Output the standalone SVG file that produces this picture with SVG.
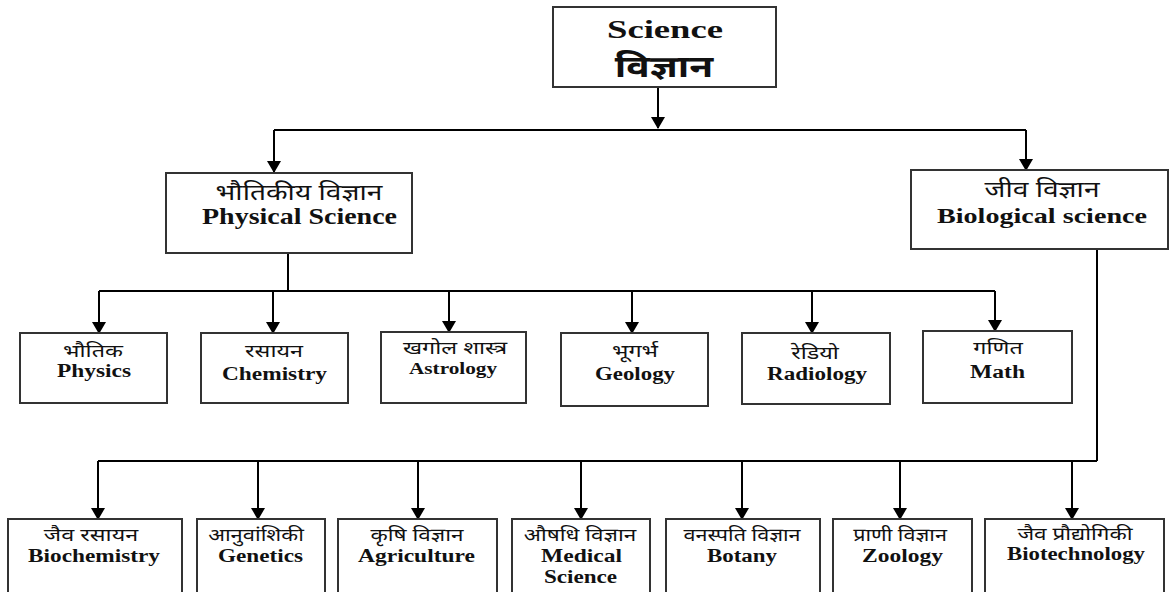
<svg xmlns="http://www.w3.org/2000/svg" width="1169" height="592" viewBox="0 0 1169 592">
<defs>
<style>
.box{fill:#fff;stroke:#333;stroke-width:2}
.en{font-family:"Liberation Serif","Times New Roman",serif;font-weight:bold;fill:#111;text-anchor:middle}
.hi{font-family:"Noto Sans Devanagari","Noto Serif Devanagari","Lohit Devanagari","Mangal","Noto Sans",sans-serif;fill:#111;text-anchor:middle}
.c{stroke:#000;stroke-width:2;fill:none}
.a{stroke:#000;stroke-width:2;fill:none;marker-end:url(#arr)}
</style>
<marker id="arr" markerUnits="userSpaceOnUse" markerWidth="12" markerHeight="14" refX="11" refY="7" orient="auto" viewBox="0 0 12 14">
<path d="M0,0 L12,7 L0,14 Z" fill="#000"/>
</marker>
</defs>
<rect width="1169" height="592" fill="#fff"/>
<g id="connectors">
<path class="a" d="M658,87 V128"/>
<path class="c" d="M274,130 H1026"/>
<path class="a" d="M274,130 V172"/>
<path class="a" d="M1026,130 V170"/>
<path class="c" d="M288,253 V291"/>
<path class="c" d="M99,291 H995"/>
<path class="a" d="M99,291 V333"/>
<path class="a" d="M273,291 V333"/>
<path class="a" d="M449,291 V332"/>
<path class="a" d="M632,291 V333"/>
<path class="a" d="M812,291 V333"/>
<path class="a" d="M995,291 V331"/>
<path class="c" d="M1097,249 V461"/>
<path class="c" d="M98,461 H1097"/>
<path class="a" d="M98,461 V519"/>
<path class="a" d="M258,461 V519"/>
<path class="a" d="M418,461 V519"/>
<path class="a" d="M581,461 V519"/>
<path class="a" d="M742,461 V519"/>
<path class="a" d="M900,461 V519"/>
<path class="a" d="M1072,461 V519"/>
</g>
<g id="science">
<rect class="box" x="553" y="7" width="223" height="80"/>
<text class="en" x="665" y="38" font-size="25" textLength="116" lengthAdjust="spacingAndGlyphs">Science</text>
<text class="hi" transform="translate(664,77) scale(1.3,1)" font-size="30" font-weight="bold">विज्ञान</text>
</g>
<g id="physical">
<rect class="box" x="166" y="173" width="246" height="80"/>
<text class="hi" transform="translate(299,200) scale(1.28,1)" font-size="22">भौतिकीय विज्ञान</text>
<text class="en" x="299.5" y="224" font-size="24" textLength="195" lengthAdjust="spacingAndGlyphs">Physical Science</text>
</g>
<g id="biological">
<rect class="box" x="911" y="170" width="257" height="79"/>
<text class="hi" transform="translate(1042,197) scale(1.28,1)" font-size="22">जीव विज्ञान</text>
<text class="en" x="1042" y="223" font-size="22" textLength="210" lengthAdjust="spacingAndGlyphs">Biological science</text>
</g>
<g id="physics">
<rect class="box" x="20" y="333" width="147" height="70"/>
<text class="hi" transform="translate(93,357) scale(1.3,1)" font-size="18">भौतिक</text>
<text class="en" x="94" y="377" font-size="18" textLength="74" lengthAdjust="spacingAndGlyphs">Physics</text>
</g>
<g id="chemistry">
<rect class="box" x="201" y="333" width="147" height="70"/>
<text class="hi" transform="translate(274,357) scale(1.3,1)" font-size="18">रसायन</text>
<text class="en" x="274.5" y="380" font-size="18" textLength="105" lengthAdjust="spacingAndGlyphs">Chemistry</text>
</g>
<g id="astrology">
<rect class="box" x="381" y="332" width="145" height="71"/>
<text class="hi" transform="translate(455,354) scale(1.3,1)" font-size="18">खगोल शास्त्र</text>
<text class="en" x="453" y="374" font-size="16" textLength="88" lengthAdjust="spacingAndGlyphs">Astrology</text>
</g>
<g id="geology">
<rect class="box" x="561" y="333" width="147" height="73"/>
<text class="hi" transform="translate(635,357) scale(1.3,1)" font-size="18">भूगर्भ</text>
<text class="en" x="635" y="380" font-size="18" textLength="80" lengthAdjust="spacingAndGlyphs">Geology</text>
</g>
<g id="radiology">
<rect class="box" x="742" y="333" width="148" height="71"/>
<text class="hi" transform="translate(815,359) scale(1.3,1)" font-size="18">रेडियो</text>
<text class="en" x="817" y="380" font-size="18" textLength="100" lengthAdjust="spacingAndGlyphs">Radiology</text>
</g>
<g id="math">
<rect class="box" x="923" y="331" width="149" height="72"/>
<text class="hi" transform="translate(998,354) scale(1.3,1)" font-size="18">गणित</text>
<text class="en" x="997.5" y="378" font-size="18" textLength="55" lengthAdjust="spacingAndGlyphs">Math</text>
</g>
<g id="biochemistry">
<rect class="box" x="8" y="519" width="174" height="80"/>
<text class="hi" transform="translate(91,541) scale(1.3,1)" font-size="18">जैव रसायन</text>
<text class="en" x="94" y="562" font-size="18" textLength="132" lengthAdjust="spacingAndGlyphs">Biochemistry</text>
</g>
<g id="genetics">
<rect class="box" x="197" y="519" width="128" height="80"/>
<text class="hi" transform="translate(256,541) scale(1.22,1)" font-size="18">आनुवांशिकी</text>
<text class="en" x="260.5" y="562" font-size="18" textLength="85" lengthAdjust="spacingAndGlyphs">Genetics</text>
</g>
<g id="agriculture">
<rect class="box" x="338" y="519" width="159" height="80"/>
<text class="hi" transform="translate(417,541) scale(1.25,1)" font-size="18">कृषि विज्ञान</text>
<text class="en" x="416.5" y="562" font-size="18" textLength="117" lengthAdjust="spacingAndGlyphs">Agriculture</text>
</g>
<g id="medical">
<rect class="box" x="512" y="519" width="138" height="80"/>
<text class="hi" transform="translate(580,541) scale(1.25,1)" font-size="18">औषधि विज्ञान</text>
<text class="en" x="581.5" y="562" font-size="18" textLength="81" lengthAdjust="spacingAndGlyphs">Medical</text>
<text class="en" x="580.5" y="583" font-size="18" textLength="73" lengthAdjust="spacingAndGlyphs">Science</text>
</g>
<g id="botany">
<rect class="box" x="666" y="519" width="154" height="80"/>
<text class="hi" transform="translate(742,541) scale(1.2,1)" font-size="18">वनस्पति विज्ञान</text>
<text class="en" x="742" y="562" font-size="18" textLength="70" lengthAdjust="spacingAndGlyphs">Botany</text>
</g>
<g id="zoology">
<rect class="box" x="833" y="519" width="139" height="80"/>
<text class="hi" transform="translate(900,541) scale(1.2,1)" font-size="18">प्राणी विज्ञान</text>
<text class="en" x="902.5" y="562" font-size="18" textLength="81" lengthAdjust="spacingAndGlyphs">Zoology</text>
</g>
<g id="biotechnology">
<rect class="box" x="985" y="519" width="179" height="80"/>
<text class="hi" transform="translate(1075,540) scale(1.25,1)" font-size="18">जैव प्रौद्योगिकी</text>
<text class="en" x="1076" y="560" font-size="18" textLength="138" lengthAdjust="spacingAndGlyphs">Biotechnology</text>
</g>
</svg>
